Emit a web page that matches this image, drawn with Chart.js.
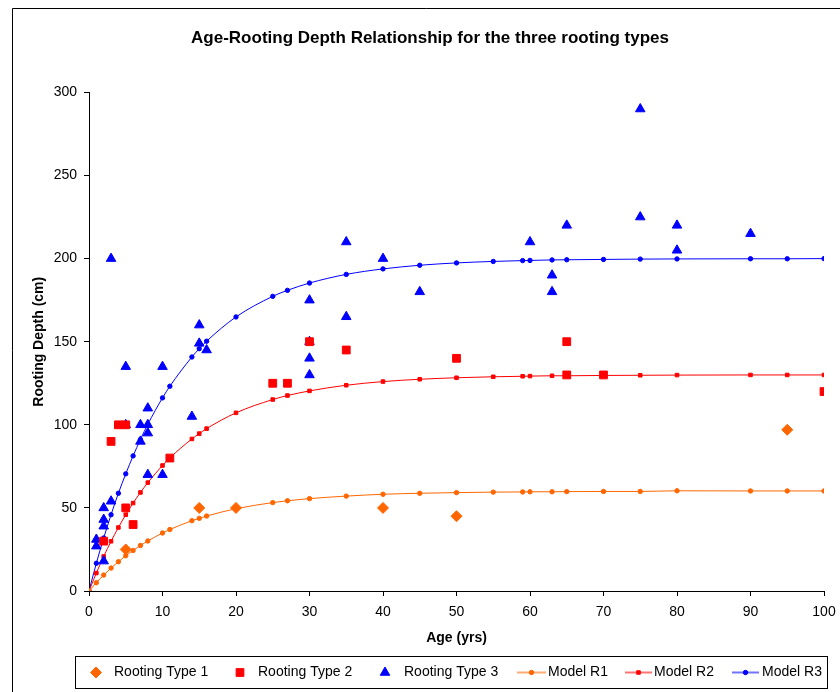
<!DOCTYPE html>
<html>
<head>
<meta charset="utf-8">
<title>Age-Rooting Depth Relationship</title>
<script src="https://cdn.jsdelivr.net/npm/chart.js@4/dist/chart.umd.min.js"></script>
<style>
  html, body { margin: 0; padding: 0; background: #fff; }
  canvas { display: block; }
</style>
</head>
<body>
<canvas id="rootChart" width="840" height="692"></canvas>
<script>
var age1 = [5, 15, 20, 40, 50, 95];
var depth1 = [25, 50, 50, 50, 45, 97];

var age2 = [2, 3, 4, 5, 5, 6, 11, 25, 27, 30, 35, 50, 65, 65, 70, 100];
var depth2 = [30, 90, 100, 100, 50, 40, 80, 125, 125, 150, 145, 140, 150, 130, 130, 120];

var age3 = [1, 1, 2, 2, 2, 2, 3, 3, 5, 5, 7, 7, 8, 8, 8, 8, 10, 10, 14, 15, 15, 16,
            30, 30, 30, 30, 35, 35, 40, 45, 60, 63, 63, 65, 75, 75, 80, 80, 90];
var depth3 = [31, 27, 50, 43, 39, 18, 54, 200, 135, 100, 100, 90, 110, 100, 95, 70, 135, 70, 105, 160, 149, 145,
              175, 150, 140, 130, 210, 165, 200, 180, 210, 190, 180, 220, 290, 225, 220, 205, 215];

// Model curves
var modelAge = [0, 1, 2, 3, 4, 5, 6, 7, 8, 10, 11, 14, 15, 16, 20, 25, 27, 30, 35, 40,
                45, 50, 55, 59, 60, 63, 65, 70, 75, 80, 90, 95, 100];
var modelR1 = [0, 5.0, 9.6, 13.8, 17.6, 21.2, 24.4, 27.4, 30.1, 34.9, 37.0, 42.3, 43.7, 45.1, 49.5, 53.2, 54.3, 55.6, 57.1, 58.2,
               58.8, 59.2, 59.5, 59.6, 59.7, 59.7, 59.8, 59.9, 59.9, 60.3, 60.2, 60.2, 60.2];
var modelR2 = [0, 10.8, 20.8, 29.9, 38.2, 45.9, 52.9, 59.3, 65.2, 75.5, 80.1, 91.5, 94.7, 97.7, 107.2, 115.2, 117.6, 120.4, 123.8, 126.0,
               127.4, 128.3, 128.9, 129.2, 129.3, 129.5, 129.5, 129.7, 129.8, 129.9, 130, 130, 130];
var modelR3 = [0, 16.7, 31.9, 45.9, 58.8, 70.5, 81.3, 91.2, 100.3, 116.2, 123.2, 140.8, 145.8, 150.3, 164.9, 177.3, 180.9, 185.3, 190.5, 193.8,
               196.0, 197.4, 198.3, 198.8, 198.9, 199.2, 199.3, 199.5, 199.7, 199.8, 199.9, 199.9, 200];

var xTicks = [0, 10, 20, 30, 40, 50, 60, 70, 80, 90, 100];
var yTicks = [0, 50, 100, 150, 200, 250, 300];

var ORANGE = '#FF6600';
var RED = '#FF0000';
var BLUE = '#0000FF';
var FONT = '"Liberation Sans", Arial, sans-serif';

function toPoints(xs, ys) {
    return xs.map(function(x, i) { return { x: x, y: ys[i] }; });
}

// where each legend entry sits inside the box
var legendSlots = [
    { mark: 96, text: 114 },
    { mark: 240, text: 258 },
    { mark: 385, text: 404 },
    { line: [517, 546], text: 548 },
    { line: [625, 652], text: 654 },
    { line: [732, 759], text: 762 }
];

var framePlugin = {
    id: 'frame',
    beforeDraw: function(chart) {
        var ctx = chart.ctx;
        ctx.save();
        ctx.fillStyle = '#fff';
        ctx.fillRect(0, 0, chart.width, chart.height);
        ctx.strokeStyle = '#000';
        ctx.lineWidth = 1;
        ctx.beginPath();
        ctx.moveTo(12.5, chart.height + 2);
        ctx.lineTo(12.5, 8.5);
        ctx.lineTo(chart.width + 2, 8.5);
        ctx.stroke();
        ctx.restore();
    },
    afterDraw: function(chart) {
        var ctx = chart.ctx;
        ctx.save();
        ctx.strokeStyle = '#000';
        ctx.lineWidth = 1;
        ctx.strokeRect(75.5, 656.5, 752, 32);
        var y = 672.5;
        ctx.font = '14px ' + FONT;
        ctx.textBaseline = 'middle';
        chart.data.datasets.forEach(function(ds, i) {
            var slot = legendSlots[i];
            var pointOpts = { pointStyle: ds.pointStyle, radius: ds.pointRadius, rotation: 0, borderWidth: 1 };
            ctx.fillStyle = ds.backgroundColor;
            ctx.strokeStyle = ds.borderColor;
            if (slot.line) {
                ctx.lineWidth = 2;
                ctx.globalAlpha = 0.55;
                ctx.beginPath();
                ctx.moveTo(slot.line[0], y);
                ctx.lineTo(slot.line[1], y);
                ctx.stroke();
                ctx.globalAlpha = 1;
                ctx.lineWidth = 1;
                Chart.helpers.drawPoint(ctx, pointOpts, (slot.line[0] + slot.line[1]) / 2, y);
            } else {
                Chart.helpers.drawPoint(ctx, pointOpts, slot.mark, y);
            }
            ctx.fillStyle = '#000';
            ctx.fillText(ds.label, slot.text, y);
        });
        ctx.restore();
    }
};

var ctx = document.getElementById('rootChart').getContext('2d');

var rootChart = new Chart(ctx, {
    type: 'scatter',
    data: {
        datasets: [{
            label: 'Rooting Type 1',
            data: toPoints(age1, depth1),
            pointStyle: 'rectRot',
            pointRadius: 5.5,
            backgroundColor: ORANGE,
            borderColor: ORANGE,
            borderWidth: 1
        }, {
            label: 'Rooting Type 2',
            data: toPoints(age2, depth2),
            pointStyle: 'rect',
            pointRadius: 5.5,
            backgroundColor: RED,
            borderColor: RED,
            borderWidth: 1
        }, {
            label: 'Rooting Type 3',
            data: toPoints(age3, depth3),
            pointStyle: 'triangle',
            pointRadius: 5.5,
            backgroundColor: BLUE,
            borderColor: BLUE,
            borderWidth: 1
        }, {
            label: 'Model R1',
            data: toPoints(modelAge, modelR1),
            showLine: true,
            cubicInterpolationMode: 'monotone',
            pointStyle: 'circle',
            pointRadius: 2.2,
            backgroundColor: ORANGE,
            borderColor: ORANGE,
            borderWidth: 1
        }, {
            label: 'Model R2',
            data: toPoints(modelAge, modelR2),
            showLine: true,
            cubicInterpolationMode: 'monotone',
            pointStyle: 'rect',
            pointRadius: 2.5,
            backgroundColor: RED,
            borderColor: RED,
            borderWidth: 1
        }, {
            label: 'Model R3',
            data: toPoints(modelAge, modelR3),
            showLine: true,
            cubicInterpolationMode: 'monotone',
            pointStyle: 'circle',
            pointRadius: 2.2,
            backgroundColor: BLUE,
            borderColor: BLUE,
            borderWidth: 1
        }]
    },
    options: {
        responsive: false,
        animation: false,
        events: [],
        layout: { padding: { top: 0, left: 20, right: 0, bottom: 45 } },
        plugins: {
            legend: { display: false },
            tooltip: { enabled: false },
            title: {
                display: true,
                text: 'Age-Rooting Depth Relationship for the three rooting types',
                color: '#000',
                font: { family: FONT, size: 17, weight: 'bold', lineHeight: 1.2 },
                padding: { top: 28, bottom: 44 }
            }
        },
        scales: {
            x: {
                type: 'linear',
                min: 0,
                max: 100,
                afterBuildTicks: function(scale) {
                    scale.ticks = xTicks.map(function(v) { return { value: v }; });
                },
                afterFit: function(scale) {
                    scale.height = 56;
                    scale.paddingLeft = 0;
                    scale.paddingRight = 16;
                },
                ticks: { color: '#000', font: { family: FONT, size: 14 }, padding: 8, maxRotation: 0 },
                grid: { drawOnChartArea: false, tickLength: 5, color: '#000' },
                border: { color: '#000', width: 1 },
                title: {
                    display: true,
                    text: 'Age (yrs)',
                    color: '#000',
                    font: { family: FONT, size: 14, weight: 'bold', lineHeight: 1.2 },
                    padding: { top: 0, bottom: 0 }
                }
            },
            y: {
                type: 'linear',
                min: 0,
                max: 300,
                afterBuildTicks: function(scale) {
                    scale.ticks = yTicks.map(function(v) { return { value: v }; });
                },
                afterFit: function(scale) { scale.width = 69; },
                ticks: { color: '#000', font: { family: FONT, size: 14 }, padding: 7 },
                grid: { drawOnChartArea: false, tickLength: 5, color: '#000' },
                border: { color: '#000', width: 1 },
                title: {
                    display: true,
                    text: 'Rooting Depth (cm)',
                    color: '#000',
                    font: { family: FONT, size: 14, weight: 'bold', lineHeight: 1.2 },
                    padding: { top: 11, bottom: 0 }
                }
            }
        }
    },
    plugins: [framePlugin]
});
</script>
</body>
</html>
